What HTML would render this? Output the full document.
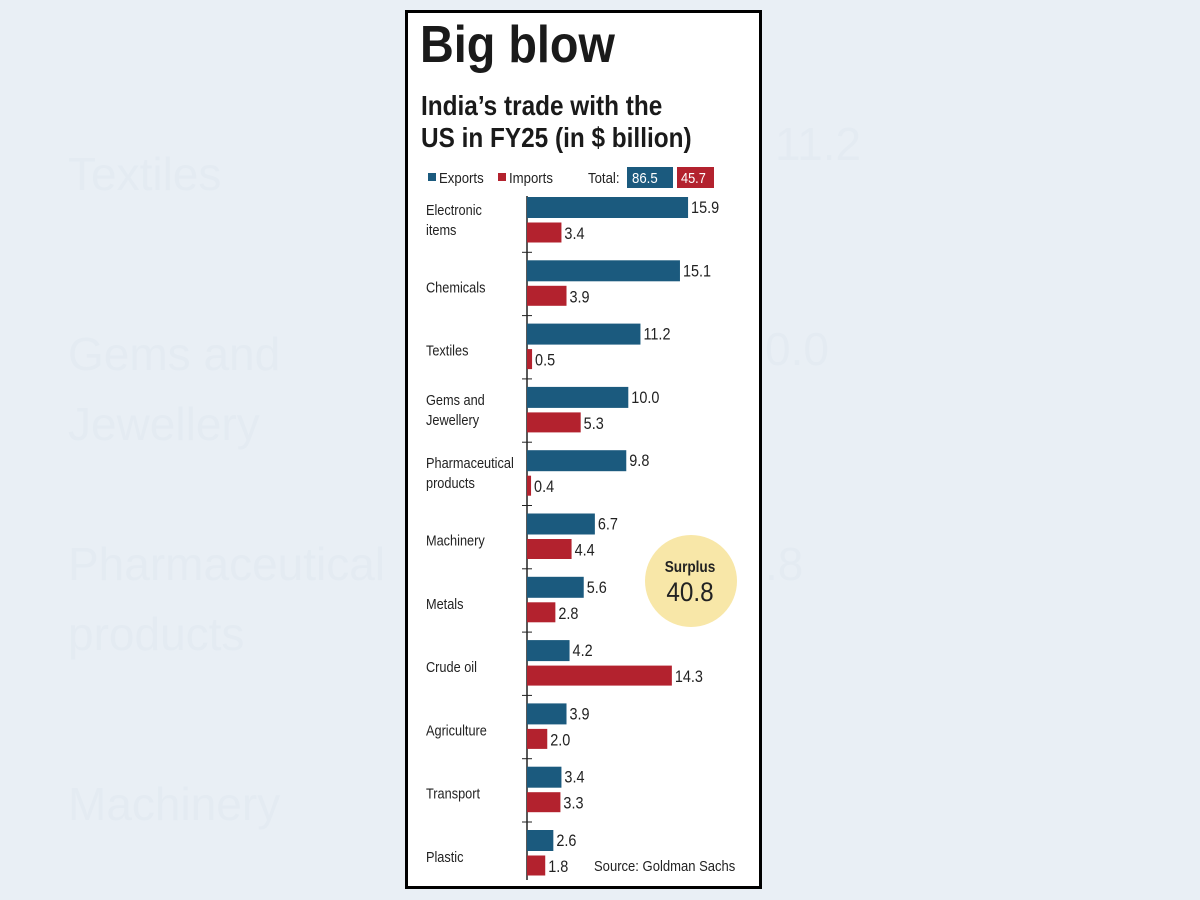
<!DOCTYPE html>
<html><head><meta charset="utf-8"><style>
html,body{margin:0;padding:0;width:1200px;height:900px;background:#e9eff5;overflow:hidden}
svg{display:block}
text{font-family:"Liberation Sans",sans-serif}
</style></head><body>
<svg width="1200" height="900" xmlns="http://www.w3.org/2000/svg">
<rect width="1200" height="900" fill="#e9eff5"/>
<g fill="#e4ebf2" font-size="46" font-family="Liberation Sans">
<text x="68" y="190">Textiles</text>
<text x="68" y="370">Gems and</text>
<text x="68" y="440">Jewellery</text>
<text x="68" y="580">Pharmaceutical</text>
<text x="68" y="650">products</text>
<text x="68" y="820">Machinery</text>
<text x="775" y="160">11.2</text>
<text x="765" y="365">0.0</text>
<text x="765" y="580">.8</text>
</g>
<rect x="406.5" y="11.5" width="354" height="876" fill="#fff" stroke="#000" stroke-width="3"/>
<text x="420" y="62" font-size="52" font-weight="bold" fill="#1a1a1a" transform="translate(420 0) scale(0.9 1) translate(-420 0)">Big blow</text>
<g font-size="28" font-weight="bold" fill="#1a1a1a" transform="translate(421 0) scale(0.87 1) translate(-421 0)">
<text x="421" y="115">India’s trade with the</text>
<text x="421" y="147">US in FY25 (in $ billion)</text>
</g>
<g font-size="15" fill="#222">
<rect x="428" y="173" width="8" height="8" fill="#1b5a7e"/>
<text x="439" y="183" transform="translate(439 0) scale(0.88 1) translate(-439 0)">Exports</text>
<rect x="498" y="173" width="8" height="8" fill="#b3222e"/>
<text x="509" y="183" transform="translate(509 0) scale(0.88 1) translate(-509 0)">Imports</text>
<text x="588" y="183" transform="translate(588 0) scale(0.88 1) translate(-588 0)">Total:</text>
<rect x="627" y="167" width="46" height="21" fill="#1b5a7e"/>
<text x="632" y="183" fill="#fff" transform="translate(632 0) scale(0.88 1) translate(-632 0)">86.5</text>
<rect x="677" y="167" width="37" height="21" fill="#b3222e"/>
<text x="681" y="183" fill="#fff" transform="translate(681 0) scale(0.85 1) translate(-681 0)">45.7</text>
</g>
<line x1="527" y1="196" x2="527" y2="880" stroke="#222" stroke-width="1.5"/>
<circle cx="691" cy="581" r="46" fill="#f8e7a8"/>
<text x="690" y="572" font-size="16" font-weight="bold" text-anchor="middle" fill="#222" transform="translate(690 0) scale(0.85 1) translate(-690 0)">Surplus</text>
<text x="690" y="601" font-size="27" text-anchor="middle" fill="#222" transform="translate(690 0) scale(0.9 1) translate(-690 0)">40.8</text>
<g id="bars" font-size="16" fill="#222"></g>
<text x="594" y="871" font-size="15" fill="#222" transform="translate(594 0) scale(0.87 1) translate(-594 0)">Source: Goldman Sachs</text>
</svg>
<script>
var d=[["Electronic|items",15.9,3.4],["Chemicals",15.1,3.9],["Textiles",11.2,0.5],["Gems and|Jewellery",10.0,5.3],["Pharmaceutical|products",9.8,0.4],["Machinery",6.7,4.4],["Metals",5.6,2.8],["Crude oil",4.2,14.3],["Agriculture",3.9,2.0],["Transport",3.4,3.3],["Plastic",2.6,1.8]];
var g=document.getElementById('bars'),s='',k=10.13;
function T(x,y,t,fs){return '<text x="'+x+'" y="'+y+'" font-size="'+fs+'" transform="translate('+x+' 0) scale(0.85 1) translate('+(-x)+' 0)">'+t+'</text>';}
d.forEach(function(r,i){var y=197+i*63.3;
s+='<rect x="527" y="'+y+'" width="'+(r[1]*k)+'" height="21" fill="#1b5a7e"/>';
s+='<rect x="527" y="'+(y+25.5)+'" width="'+(r[2]*k)+'" height="20" fill="#b3222e"/>';
s+=T(530+r[1]*k,y+16,r[1].toFixed(1),17);
s+=T(530+r[2]*k,y+42,r[2].toFixed(1),17);
if(i>0)s+='<line x1="522" x2="532" y1="'+(y-8)+'" y2="'+(y-8)+'" stroke="#222"/>';
var L=r[0].split('|');
if(L.length==1)s+=T(426,y+32,L[0],15);
else{s+=T(426,y+18,L[0],15);s+=T(426,y+38,L[1],15);}
});
g.innerHTML=s;
</script>
</body></html>
